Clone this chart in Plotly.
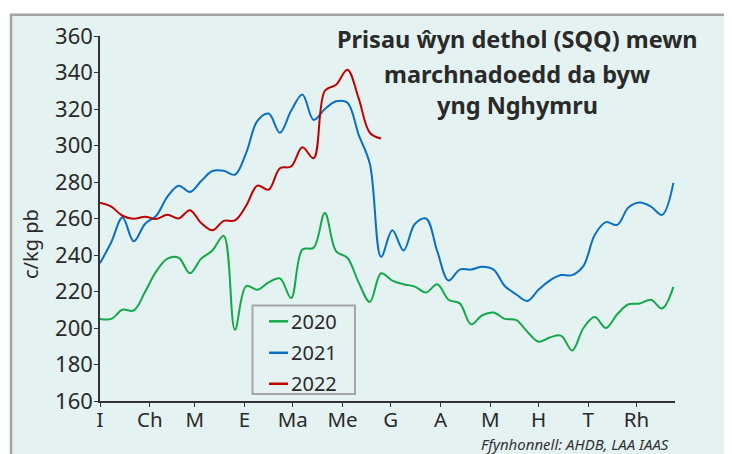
import plotly.graph_objects as go

# ---- data (weekly, x = day of year) ----
weeks = list(range(52))
days = [w * 7 for w in weeks]

y2020 = [205, 205, 210, 209.6, 219.7, 231, 238, 238.5, 230, 238, 242.5, 250.5,
         199, 223, 221, 225, 227.2, 216.4, 243, 244, 263, 242, 238.5, 225,
         214.3, 230, 226, 224, 222.7, 219.5, 224, 215.5, 213.5, 202, 207, 208.5,
         205, 204.4, 198, 192.5, 194.8, 195.8, 187.7, 200, 206, 200, 207.5, 213,
         213.4, 215.5, 210.7, 222.5]

y2021 = [235.5, 247, 260.5, 247.5, 257, 261.5, 272, 278, 274.5, 280.5, 286, 286.2,
         284, 296, 313.5, 317.5, 307, 319, 328, 314, 320, 324.2, 323.5, 306,
         290, 239, 253.5, 242.5, 257, 260, 242, 226, 232, 232, 233.5, 232,
         223, 218.5, 214.8, 221, 226, 229, 229, 234, 251, 258, 256.5, 266,
         268.7, 266.5, 262, 279.5]

y2022 = [268.6, 266.5, 261.5, 259.8, 261, 259.7, 262, 260, 264.5, 257.5, 253.5, 258.7,
         259, 267, 278, 275.8, 287.5, 288.5, 299, 293, 330, 333.3, 341.5, 326,
         307, 303.8]

month_days = [0, 31, 59, 90, 120, 151, 181, 212, 243, 273, 304, 334]
month_labels = ["I", "Ch", "M", "E", "Ma", "Me", "G", "A", "M", "H", "T", "Rh"]
y_ticks = list(range(160, 361, 20))

series = [("2020", y2020, "#14a84a"), ("2021", y2021, "#0b6fc1"), ("2022", y2022, "#c00000")]

FONT = "Noto Sans"
TXT = "#2a2a2a"

fig = go.Figure()
for name, vals, col in series:
    fig.add_trace(go.Scatter(
        x=days[:len(vals)], y=vals, name=name, mode="lines",
        line=dict(color=col, width=2, shape="spline", smoothing=1),
        showlegend=False,
    ))

# page has an 8px body margin: the figure is drawn from page (8, 8)
OFF = 8
W, H = 732 - OFF, 454 - OFF
L, T = 100 - OFF, 30 - OFF
R = W - (675 - OFF)
B = H - (401 - OFF)
pw, ph = W - L - R, H - T - B


def xp(px):
    return (px - OFF - L) / pw


def yp(py):
    return (T + ph - (py - OFF)) / ph


shapes = [dict(
    type="rect", xref="paper", yref="paper",
    x0=xp(11), x1=xp(725.5), y0=yp(480), y1=yp(8.5),
    fillcolor="#e4f2f1", line=dict(color="#a3a3a3", width=2.5), layer="below",
)]

# legend box (drawn as layout shapes + text)
shapes.append(dict(
    type="rect", xref="paper", yref="paper",
    x0=xp(252.5), x1=xp(355), y0=yp(394), y1=yp(304),
    fillcolor="rgba(0,0,0,0)", line=dict(color="#a6a6a6", width=2), layer="above",
))
row_y = [320, 352, 383.5]
for (name, vals, col), ry in zip(series, row_y):
    shapes.append(dict(
        type="line", xref="paper", yref="paper",
        x0=xp(269), x1=xp(288), y0=yp(ry), y1=yp(ry),
        line=dict(color=col, width=2.5), layer="above",
    ))

fig.update_layout(
    width=W, height=H,
    margin=dict(l=L, r=R, t=T, b=B, pad=0),
    paper_bgcolor="white",
    plot_bgcolor="rgba(0,0,0,0)",
    font=dict(family=FONT, color=TXT),
    showlegend=False,
    xaxis=dict(
        range=[0, 358], tickvals=month_days, ticktext=month_labels,
        showgrid=False, zeroline=False, showline=True, linecolor="#333",
        linewidth=1.5, ticks="outside", ticklen=4, tickcolor="#333",
        tickfont=dict(size=20.5, family=FONT, color=TXT),
        ticklabelstandoff=-4,
    ),
    yaxis=dict(
        range=[160, 360], tickvals=y_ticks,
        showgrid=False, zeroline=False, showline=True, linecolor="#333",
        linewidth=1.5, ticks="outside", ticklen=4, tickcolor="#333",
        tickfont=dict(size=22, family=FONT, color=TXT),
        ticklabelstandoff=-3,
    ),
    shapes=shapes,
)

for (name, vals, col), ry in zip(series, row_y):
    fig.add_annotation(
        text=name, xref="paper", yref="paper", x=xp(288.5), y=yp(ry),
        xanchor="left", yanchor="middle", showarrow=False,
        font=dict(size=20, family=FONT, color=TXT),
    )

title_lines = [("Prisau ŵyn dethol (SQQ) mewn", 33.5),
               ("marchnadoedd da byw", 68.5),
               ("yng Nghymru", 100.5)]
for txt, cy in title_lines:
    fig.add_annotation(
        text="<b>" + txt + "</b>", xref="paper", yref="paper",
        x=xp(517), y=yp(cy), xanchor="center", yanchor="middle",
        showarrow=False, font=dict(size=23.5, family=FONT, color=TXT),
    )

fig.add_annotation(
    text="c/kg pb", xref="paper", yref="paper", x=xp(30.7), y=yp(241.7),
    xanchor="center", yanchor="middle", textangle=-90, showarrow=False,
    font=dict(size=20, family=FONT, color=TXT),
)

fig.add_annotation(
    text="<i>Ffynhonnell: AHDB, LAA IAAS</i>", xref="paper", yref="paper",
    x=xp(671), y=yp(444.5), xanchor="right", yanchor="middle", showarrow=False,
    font=dict(size=15, family=FONT, color="#333"),
)

fig.write_html("out.html")
